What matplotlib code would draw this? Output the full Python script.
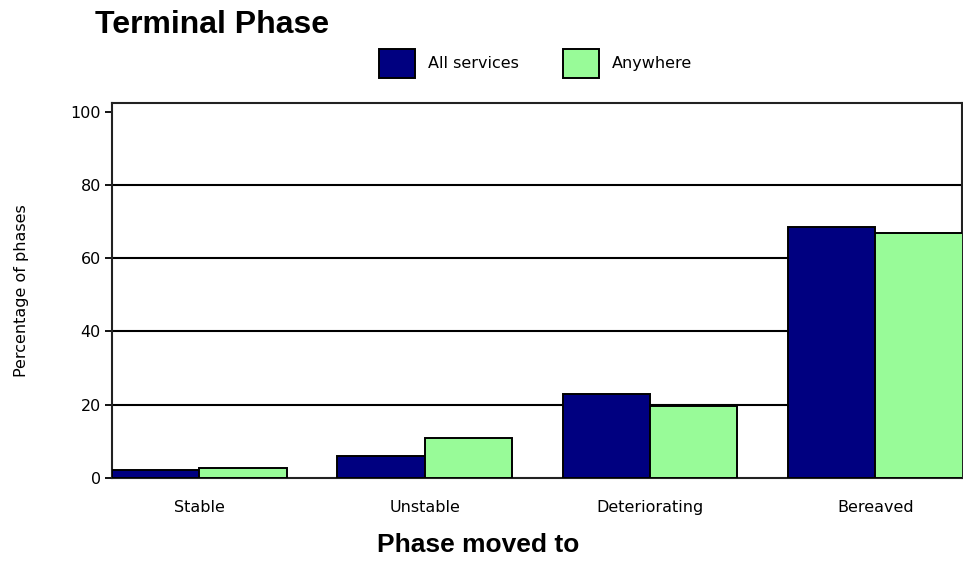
import numpy as np
import matplotlib
matplotlib.use("Agg")
import matplotlib.pyplot as plt

# dados
categorias = ["Stable", "Unstable", "Deteriorating", "Bereaved"]
all_services = [2.2, 6.0, 22.9, 68.5]
anywhere = [2.6, 10.8, 19.7, 66.8]
yticks = [0, 20, 40, 60, 80, 100]

fig = plt.figure(figsize=(9.63, 5.61), dpi=100)
ax = fig.add_axes([0.1163, 0.148, 0.8827, 0.6684])

x = np.arange(len(categorias))
w = 0.388
ax.bar(x - w/2, all_services, w, color="#000080", edgecolor="black", linewidth=1.4,
       label="All services", zorder=3)
ax.bar(x + w/2, anywhere, w, color="#98FB98", edgecolor="black", linewidth=1.4,
       label="Anywhere", zorder=3)

# linhas de grade so entre 0 e 100 (sem a do topo)
for yv in yticks[1:-1]:
    ax.axhline(yv, color="black", linewidth=1.5, zorder=0)

ax.set_xlim(-0.388, 3.385)
ax.set_ylim(0, 102.4)
ax.set_yticks(yticks)
ax.set_xticks(x)
ax.set_xticklabels(categorias, fontsize=11.5)
ax.tick_params(axis="x", length=0, pad=16)
ax.tick_params(axis="y", length=5, width=1.3, labelsize=11.5, pad=3)
for s in ax.spines.values():
    s.set_linewidth(1.5)
    s.set_color("#222222")

ax.set_ylabel("Percentage of phases", fontsize=11.5)
ax.yaxis.set_label_coords(-0.098, 0.5)

fig.text(0.2207, 0.955, "Terminal Phase", fontsize=23, fontweight="bold",
         family="Liberation Sans", ha="center", va="center")
fig.text(0.497, 0.028, "Phase moved to", fontsize=19, fontweight="bold",
         family="Liberation Sans", ha="center", va="center")

fig.legend(loc="center", bbox_to_anchor=(0.556, 0.887), ncol=2, frameon=False,
           fontsize=11.5, handlelength=2.25, handleheight=2.42, handletextpad=0.81,
           columnspacing=2.8)

fig.savefig("out.png", dpi=100)
